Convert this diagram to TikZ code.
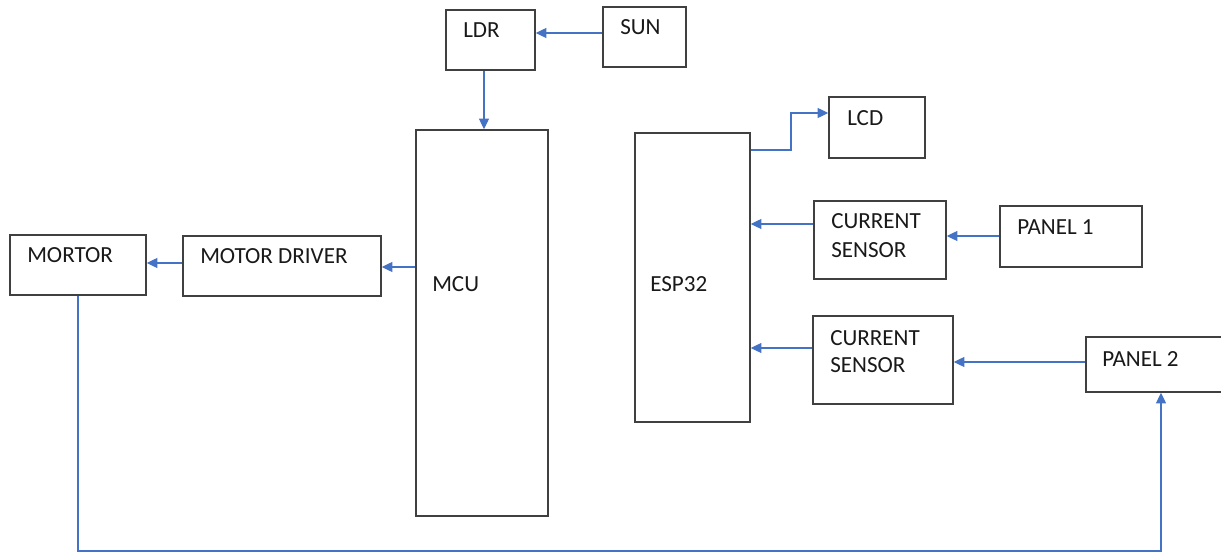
\documentclass[tikz,border=0pt]{standalone}
\usepackage{fontspec}
\setmainfont{Carlito}
\usetikzlibrary{arrows.meta,fit}
\begin{document}
\begin{tikzpicture}[x=0.75pt,y=-0.75pt,
  box/.style={draw=black!75,line width=1.1pt,inner sep=0pt},
  lbl/.style={anchor=base west,inner sep=0pt,font=\fontsize{17.3}{21}\selectfont,text=black!90},
  arr/.style={draw=blue!45!cyan!30!black!0,color={rgb,255:red,68;green,114;blue,196},line width=0.9pt,-{Triangle[length=8pt,width=7.5pt]}},
  wire/.style={color={rgb,255:red,68;green,114;blue,196},line width=0.9pt}]
\useasboundingbox (0,0) rectangle (1221,552);
% boxes
\node[box,fit={(446,10)(535,70)}] (ldr) {};
\node[box,fit={(603,7)(686,67)}] (sun) {};
\node[box,fit={(416,130)(548,516)}] (mcu) {};
\node[box,fit={(635,133)(750,422)}] (esp) {};
\node[box,fit={(829,97)(925,158)}] (lcd) {};
\node[box,fit={(814,201)(946,279)}] (cs1) {};
\node[box,fit={(1000,206)(1142,267)}] (p1) {};
\node[box,fit={(813,316)(953,404)}] (cs2) {};
\node[box,fit={(1086,337)(1226,392)}] (p2) {};
\node[box,fit={(10,235)(146,295)}] (mortor) {};
\node[box,fit={(183,236)(381,296)}] (md) {};
% labels
\node[lbl] (ldrt) at (463,38) {LDR};
\node[lbl] (sunt) at (620,35) {SUN};
\node[lbl] (mcut) at (432,292) {MCU};
\node[lbl] (espt) at (650,292) {ESP32};
\node[lbl] (lcdt) at (847,126) {LCD};
\node[lbl] (cs1a) at (831,229) {CURRENT};
\node[lbl] (cs1b) at (831,258) {SENSOR};
\node[lbl] (p1t) at (1017,235) {PANEL 1};
\node[lbl] (cs2a) at (830,345) {CURRENT};
\node[lbl] (cs2b) at (830,373) {SENSOR};
\node[lbl] (p2t) at (1102,366) {PANEL 2};
\node[lbl] (mortort) at (27,263) {MORTOR};
\node[lbl] (mdt) at (200,264) {MOTOR DRIVER};
% connectors
\draw[arr] (sun.west |- 0,33) -- (ldr.east |- 0,33);
\draw[arr] (ldr.south -| 484,0) -- (mcu.north -| 484,0);
\coordinate (bend) at (791,113);
\draw[arr] (esp.east |- 0,150) -| (bend) -- (lcd.west |- 0,113);
\draw[arr] (cs1.west |- 0,224) -- (esp.east |- 0,224);
\draw[arr] (p1.west |- 0,236) -- (cs1.east |- 0,236);
\draw[arr] (cs2.west |- 0,348) -- (esp.east |- 0,348);
\draw[arr] (p2.west |- 0,362) -- (cs2.east |- 0,362);
\draw[arr] (mcu.west |- 0,267) -- (md.east |- 0,267);
\draw[arr] (md.west |- 0,263) -- (mortor.east |- 0,263);
\coordinate (bl) at (78,551);
\draw[arr] (mortor.south -| 78,0) -- (bl) -| (p2.south -| 1161,0);
\end{tikzpicture}
\end{document}
